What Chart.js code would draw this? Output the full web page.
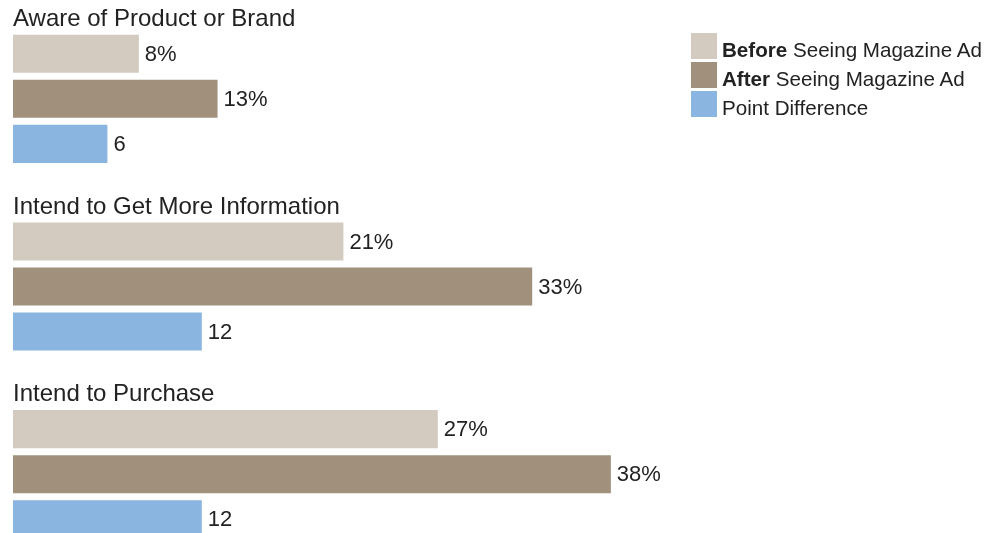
<!DOCTYPE html>
<html lang="en">
<head>
    <meta charset="UTF-8">
    <title>Magazine Ad Effect</title>
    <script src="https://cdn.jsdelivr.net/npm/chart.js"></script>
    <style>
        html, body {
            margin: 0;
            padding: 0;
            width: 999px;
            height: 533px;
            overflow: hidden;
            background: #fff;
            font-family: "Liberation Sans", Arial, Helvetica, sans-serif;
            color: #222;
        }
        #wrap {
            position: relative;
            width: 999px;
            height: 575px;
        }
        .legend {
            position: absolute;
            left: 691px;
            top: 33px;
        }
        .legend .row {
            position: relative;
            height: 29px;
        }
        .legend .sw {
            position: absolute;
            left: 0;
            top: 0;
            width: 26px;
            height: 26px;
        }
        .legend .txt {
            position: absolute;
            left: 31px;
            top: 4px;
            font-size: 20.6px;
            line-height: 26px;
            white-space: nowrap;
            color: #222;
        }
    </style>
</head>
<body>
    <div id="wrap">
        <canvas id="adChart"></canvas>
        <div class="legend" id="legend"></div>
    </div>
    <script>
        const categories = ['Aware of Product or Brand', 'Intend to Get More Information', 'Intend to Purchase'];
        const beforeValues = [8, 21, 27];
        const afterValues = [13, 33, 38];
        const diffValues = [6, 12, 12];

        const colors = ['#d3cbc0', '#a0907c', '#8ab5e0'];

        // legend entries: bold word + rest
        const legendItems = [
            ['Before', ' Seeing Magazine Ad'],
            ['After', ' Seeing Magazine Ad'],
            ['', 'Point Difference']
        ];

        const legendEl = document.getElementById('legend');
        legendItems.forEach((item, i) => {
            const row = document.createElement('div');
            row.className = 'row';
            row.innerHTML = '<div class="sw" style="background:' + colors[i] + '"></div>' +
                '<div class="txt">' + (item[0] ? '<b>' + item[0] + '</b>' : '') + item[1] + '</div>';
            legendEl.appendChild(row);
        });

        // group titles above each set of bars
        const groupTitles = {
            id: 'groupTitles',
            afterDatasetsDraw(chart) {
                const c = chart.ctx;
                const yScale = chart.scales.y;
                c.save();
                c.font = '24px "Liberation Sans", Arial, sans-serif';
                c.fillStyle = '#222';
                c.textAlign = 'left';
                c.textBaseline = 'alphabetic';
                categories.forEach((name, i) => {
                    const y = yScale.getPixelForValue(i);
                    c.fillText(name, 13, y - 73);
                });
                c.restore();
            }
        };

        // value labels at the end of each bar
        const valueLabels = {
            id: 'valueLabels',
            afterDatasetsDraw(chart) {
                const c = chart.ctx;
                c.save();
                c.font = '22px "Liberation Sans", Arial, sans-serif';
                c.fillStyle = '#222';
                c.textAlign = 'left';
                c.textBaseline = 'middle';
                chart.data.datasets.forEach((ds, di) => {
                    const meta = chart.getDatasetMeta(di);
                    meta.data.forEach((bar, i) => {
                        const txt = ds.data[i] + (di < 2 ? '%' : '');
                        c.fillText(txt, bar.x + 6, bar.y + 1);
                    });
                });
                c.restore();
            }
        };

        const ctx = document.getElementById('adChart').getContext('2d');
        new Chart(ctx, {
            type: 'bar',
            data: {
                labels: categories,
                datasets: [
                    { label: 'Before Seeing Magazine Ad', data: beforeValues, backgroundColor: colors[0] },
                    { label: 'After Seeing Magazine Ad', data: afterValues, backgroundColor: colors[1] },
                    { label: 'Point Difference', data: diffValues, backgroundColor: colors[2] }
                ]
            },
            options: {
                indexAxis: 'y',
                responsive: true,
                maintainAspectRatio: false,
                animation: false,
                categoryPercentage: 0.72,
                barPercentage: 0.844,
                layout: {
                    padding: { left: 13, right: 42, top: 5, bottom: 7 }
                },
                plugins: {
                    legend: { display: false },
                    tooltip: { enabled: false }
                },
                scales: {
                    x: { min: 0, max: 60, display: false },
                    y: { display: false }
                }
            },
            plugins: [groupTitles, valueLabels]
        });
    </script>
</body>
</html>
